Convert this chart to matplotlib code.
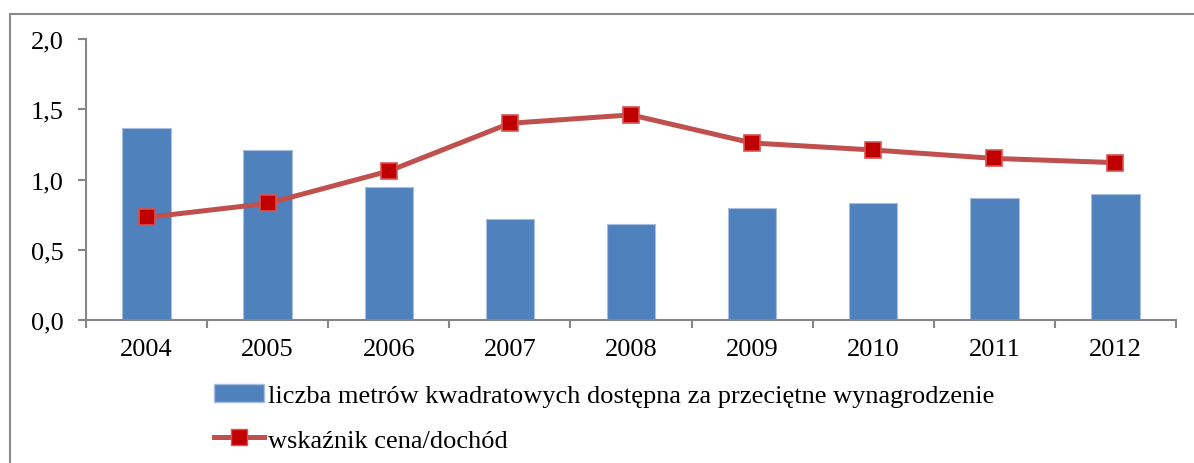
import numpy as np
import matplotlib
matplotlib.use('Agg')
import matplotlib.pyplot as plt
from matplotlib.lines import Line2D
from matplotlib.ticker import FuncFormatter

plt.rcParams['font.family'] = ['Liberation Serif', 'DejaVu Serif']

# Data
years = ['2004', '2005', '2006', '2007', '2008', '2009', '2010', '2011', '2012']
metry = [1.37, 1.21, 0.95, 0.72, 0.68, 0.80, 0.83, 0.87, 0.90]
wskaznik = [0.73, 0.83, 1.06, 1.40, 1.46, 1.26, 1.21, 1.15, 1.12]
y_ticks = [0.0, 0.5, 1.0, 1.5, 2.0]

label_bar = 'liczba metrów kwadratowych dostępna za przeciętne wynagrodzenie'
label_line = 'wskaźnik cena/dochód'

fig = plt.figure(figsize=(11.94, 4.64), dpi=100)
ax = fig.add_axes([86 / 1194, 1 - 321 / 464, (1176 - 86) / 1194, (321 - 40) / 464])

x = np.arange(len(years))
ax.bar(x, metry, width=0.40, color='#4F81BD', edgecolor='#A7BFDE', linewidth=0.8, zorder=2)
ax.plot(x, wskaznik, color='#C0504D', linewidth=3.6, marker='s', markersize=12,
        markerfacecolor='#C00000', markeredgecolor='#D9534F', markeredgewidth=1.2, zorder=3)

ax.set_xlim(-0.5, len(years) - 0.5)
ax.set_ylim(0, 2.0)
ax.set_yticks(y_ticks)
ax.yaxis.set_major_formatter(FuncFormatter(lambda v, p: f'{v:.1f}'.replace('.', ',')))
ax.set_xticks(x)
ax.set_xticklabels(years)
ax.set_xticks(np.arange(-0.5, len(years)), minor=True)

for s in ['top', 'right']:
    ax.spines[s].set_visible(False)
for s in ['left', 'bottom']:
    ax.spines[s].set_color('#868686')
    ax.spines[s].set_linewidth(1.5)

ax.tick_params(axis='y', which='major', length=6, width=1.5, color='#868686',
               labelsize=19, pad=10)
ax.tick_params(axis='x', which='major', length=0, labelsize=19, pad=13)
ax.tick_params(axis='x', which='minor', length=6, width=1.5, color='#868686')

handles = [
    plt.Rectangle((0, 0), 1, 1, facecolor='#4F81BD', edgecolor='#A7BFDE'),
    Line2D([0], [0], color='#C0504D', linewidth=3.6, marker='s', markersize=12,
           markerfacecolor='#C00000', markeredgecolor='#D9534F'),
]
fig.legend(handles, [label_bar, label_line], loc='upper left',
           bbox_to_anchor=(203 / 1194, 1 - 374 / 464), frameon=False, fontsize=19,
           handlelength=1.9, handletextpad=0.15, labelspacing=0.8, borderaxespad=0)

# outer chart frame (left and top edges visible)
fig.add_artist(Line2D([9.5 / 1194, 9.5 / 1194], [0, 1 - 14.5 / 464],
                      transform=fig.transFigure, color='#8C8C8C', linewidth=1.5))
fig.add_artist(Line2D([9.5 / 1194, 1], [1 - 14.5 / 464, 1 - 14.5 / 464],
                      transform=fig.transFigure, color='#8C8C8C', linewidth=1.5))

fig.savefig('out.png', dpi=100)
